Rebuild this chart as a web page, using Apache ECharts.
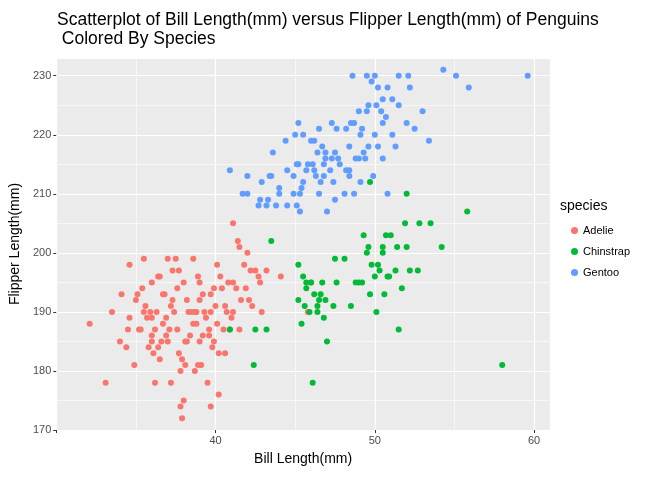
<!DOCTYPE html>
<html>
<head>
<meta charset="utf-8">
<script src="https://cdn.jsdelivr.net/npm/echarts@6/dist/echarts.min.js"></script>
<style>html,body{margin:0;padding:0;background:#fff}#chart{width:672px;height:480px}</style>
</head>
<body>
<div id="chart"></div>
<script>
// bill length (mm), flipper length (mm)
var adelie = [[32.1,188],[33.1,178],[33.5,190],[34,185],[34.4,184],[34.5,187],[34.6,198],[34.6,189],[35,192],[35.1,193],[35.2,187],[35.3,187],[35.5,190],[35.6,191],[35.7,189],[35.9,190],[36,186],[36,185],[36.2,187],[36.2,178],[36.3,190],[36.4,184],[36.5,182],[36.6,185],[36.7,193],[36.8,193],[36.9,189],[37,185],[37.2,178],[37.3,192],[37.5,199],[37.6,194],[37.7,183],[37.8,174],[37.8,180],[37.9,172],[38.1,181],[38.1,185],[38.2,185],[38.3,190],[38.5,190],[38.6,188],[38.7,190],[38.8,190],[38.9,181],[39,185],[39.1,181],[39.2,193],[39.3,190],[39.5,178],[39.6,186],[39.7,190],[39.8,184],[40.1,188],[40.2,176],[40.3,196],[40.5,187],[40.6,183],[40.7,190],[40.8,195],[40.9,187],[41.1,190],[41.1,205],[41.3,194],[41.4,202],[41.5,201],[41.6,192],[41.8,198],[42,200],[42.2,197],[42.3,191],[42.5,197],[42.7,196],[42.8,195],[42.9,190],[43.2,197],[44.1,196],[45.8,190],[46,195],[36,195],[37,199],[38,195],[39,195],[36.5,196],[37.3,197],[38.6,199],[39.7,193],[40.1,198],[35.5,199],[37.6,187],[38.8,188],[39.2,186],[36,189],[34.1,193],[38.7,180],[39.6,187],[40.2,183],[40.6,191],[41.1,195],[42.1,192],[37.7,197],[39.9,194],[41,189],[38,175],[39.7,174],[39,192],[35.8,184],[36.9,186],[37.4,190],[38.4,186],[39.4,189],[34.9,181],[36.1,183],[37.1,187],[38.2,192],[40,191],[41.5,187],[35.4,194],[36.7,188],[37.9,182],[39.9,185],[38.9,196],[40.4,194],[41.9,194],[37.2,191],[36.4,196]];
var chinstrap = [[40.9,187],[42.4,181],[42.5,187],[43.2,187],[43.5,202],[45.2,198],[45.4,188],[45.5,196],[45.6,191],[45.7,195],[45.9,190],[46,195],[46.1,178],[46.2,193],[46.4,191],[46.5,192],[46.6,193],[46.7,195],[46.8,189],[46.9,192],[47,185],[47.5,199],[47.6,195],[48.1,199],[48.5,191],[49,195],[49.2,195],[49.3,203],[49.5,200],[49.6,201],[49.7,193],[49.8,198],[50,196],[50.1,190],[50.2,198],[50.3,197],[50.5,201],[50.6,193],[50.7,203],[50.8,196],[50.9,196],[51,203],[51.3,197],[51.4,201],[51.5,187],[51.7,194],[51.9,205],[52,210],[52.2,197],[52.7,197],[52.8,205],[53.5,205],[54.2,201],[55.8,207],[58,181],[45.7,194],[47.4,191],[49.7,212],[50.5,200],[46.4,190],[48.8,195],[52,201],[45.2,192]];
var gentoo = [[40.9,214],[41.7,210],[42,210],[42.7,208],[42.8,209],[42.9,212],[43.2,208],[43.3,209],[43.5,213],[43.6,217],[43.8,208],[44,210],[44.4,219],[44.5,214],[44.9,213],[45,220],[45.1,215],[45.2,215],[45.3,210],[45.4,211],[45.5,212],[45.7,214],[45.8,215],[46.1,215],[46.2,214],[46.3,213],[46.4,217],[46.5,210],[46.6,212],[46.8,215],[46.9,217],[47.2,214],[47.3,216],[47.4,212],[47.5,209],[47.6,221],[47.7,216],[47.8,215],[48.1,210],[48.2,221],[48.4,213],[48.5,222],[48.6,230],[48.7,222],[48.8,216],[49,216],[49.1,220],[49.2,221],[49.3,217],[49.4,216],[49.5,224],[49.6,225],[49.8,229],[49.9,213],[50,230],[50.1,225],[50.2,218],[50.4,224],[50.5,222],[50.7,223],[50.8,228],[51.1,220],[51.3,218],[51.5,230],[52.1,230],[52.2,228],[52.5,221],[53.4,219],[54.3,231],[55.1,230],[55.9,228],[59.6,230],[44.9,210],[45.2,222],[46.5,221],[47.3,222],[48.4,214],[49.1,212],[50,220],[50.5,216],[45.1,208],[46,219],[46.7,218],[43.4,213],[44.5,208],[47,207],[48.2,214],[49.6,218],[46.2,219],[45.5,220],[50.8,210],[51.5,225],[48.7,210],[49.5,230],[50.2,228],[52,222],[53,224],[44,211],[45.3,207],[46.8,213],[47.5,217],[49,224],[50.5,226],[51.1,226],[46.9,216],[42,213],[48.4,218]];
var species = ['Adelie', 'Chinstrap', 'Gentoo'];
var colors = ['#F8766D', '#00BA38', '#619CFF'];

var chart = echarts.init(document.getElementById('chart'));
var gridLine = {show: true, lineStyle: {color: '#fff', width: 1.2}};
var minorLine = {show: true, lineStyle: {color: '#fff', width: 0.6}};
chart.setOption({
  animation: false,
  title: {
    text: 'Scatterplot of Bill Length(mm) versus Flipper Length(mm) of Penguins\n Colored By Species',
    left: 52, top: 6,
    textStyle: {fontFamily: 'Liberation Sans', fontSize: 17.5, fontWeight: 'normal', color: '#000', lineHeight: 19}
  },
  grid: {left: 52, right: 122, top: 58, bottom: 50, show: true, backgroundColor: '#EBEBEB', borderWidth: 0},
  legend: {
    orient: 'vertical', left: 566, top: 220, itemGap: 10,
    icon: 'circle', itemWidth: 7, itemHeight: 7,
    textStyle: {fontFamily: 'Liberation Sans', fontSize: 11, color: '#000'},
    data: species
  },
  graphic: [{type: 'text', left: 560, top: 199, style: {text: 'species', font: '14px "Liberation Sans"', fill: '#000'}}],
  xAxis: {
    type: 'value', min: 30, max: 61, interval: 10,
    name: 'Bill Length(mm)', nameLocation: 'middle', nameGap: 22,
    nameTextStyle: {fontFamily: 'Liberation Sans', fontSize: 14, color: '#000'},
    axisLine: {show: false}, axisTick: {show: true, length: 3, lineStyle: {color: '#333'}},
    axisLabel: {color: '#4D4D4D', fontSize: 11, margin: 5, showMaxLabel: false, formatter: function (v) { return v % 10 === 0 && v > 30 ? v : ''; }},
    splitLine: gridLine, minorTick: {show: false, splitNumber: 2}, minorSplitLine: minorLine
  },
  yAxis: {
    type: 'value', min: 170, max: 233, interval: 10,
    name: 'Flipper Length(mm)', nameLocation: 'middle', nameGap: 30,
    nameTextStyle: {fontFamily: 'Liberation Sans', fontSize: 14, color: '#000'},
    axisLine: {show: false}, axisTick: {show: true, length: 3, lineStyle: {color: '#333'}},
    axisLabel: {color: '#4D4D4D', fontSize: 11, margin: 5, showMaxLabel: false},
    splitLine: gridLine, minorTick: {show: false, splitNumber: 2}, minorSplitLine: minorLine
  },
  series: [adelie, chinstrap, gentoo].map(function (d, i) {
    return {name: species[i], type: 'scatter', data: d, symbolSize: 6, itemStyle: {color: colors[i], opacity: 1}};
  })
});
</script>
</body>
</html>
